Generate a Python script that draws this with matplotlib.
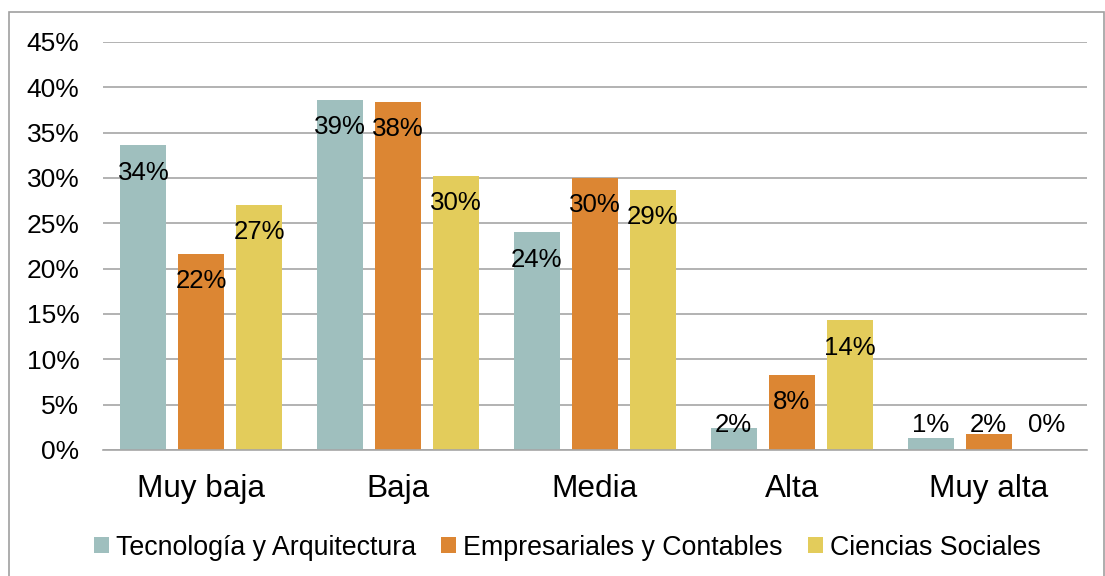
import matplotlib
matplotlib.use("Agg")
import matplotlib.pyplot as plt
from matplotlib.patches import Rectangle
import numpy as np

plt.rcParams['font.family'] = ['Liberation Sans', 'DejaVu Sans']

categories = ["Muy baja", "Baja", "Media", "Alta", "Muy alta"]
series_names = ["Tecnología y Arquitectura", "Empresariales y Contables", "Ciencias Sociales"]
tec = [33.6, 38.6, 24.0, 2.4, 1.3]
emp = [21.6, 38.4, 30.0, 8.3, 1.8]
cie = [27.0, 30.2, 28.7, 14.3, 0.0]
colors = ["#9FBFBE", "#DC8633", "#E3CC5B"]
yticks = [0, 5, 10, 15, 20, 25, 30, 35, 40, 45]

fig = plt.figure(figsize=(11.05, 5.76), dpi=100)
ax = fig.add_axes([0.0932, 0.2188, 0.8905, 0.7083])

x = np.arange(len(categories))
bw = 0.234
step = 0.295
for i, (vals, col, name) in enumerate(zip([tec, emp, cie], colors, series_names)):
    xs = x + (i - 1) * step
    ax.bar(xs, vals, width=bw, color=col, label=name, zorder=2)
    for xi, v in zip(xs, vals):
        ly = max(v - 3.0, 2.75)
        ax.text(xi, ly, f"{round(v):.0f}%", ha="center", va="center",
                fontsize=18.6, color="black", zorder=3)

ax.set_xlim(-0.5, 4.5)
ax.set_ylim(0, 45)
ax.set_yticks(yticks)
ax.set_yticklabels([f"{t}%" for t in yticks], fontsize=19)
ax.set_xticks(x)
ax.set_xticklabels(categories, fontsize=22.7)
ax.tick_params(axis='both', length=0)
ax.tick_params(axis='y', pad=17)
ax.tick_params(axis='x', pad=17)
ax.yaxis.grid(True, color="#A6A6A6", linewidth=1.2, zorder=0)
ax.set_axisbelow(True)
for s in ["top", "right", "left"]:
    ax.spines[s].set_visible(False)
ax.spines["bottom"].set_color("#A6A6A6")
ax.spines["bottom"].set_linewidth(1.2)

leg = fig.legend(loc="center", bbox_to_anchor=(0.5135, 0.049), ncol=3, frameon=False,
                 fontsize=19.3, handlelength=0.55, handleheight=0.55, handletextpad=0.28,
                 columnspacing=0.93)

fig.patches.append(Rectangle((9/1105, -0.01), (1104-9)/1105, 1 - 12/576 + 0.01,
                             transform=fig.transFigure, fill=False,
                             edgecolor="#A0A0A0", linewidth=1.2))

fig.savefig("out.png", dpi=100)
